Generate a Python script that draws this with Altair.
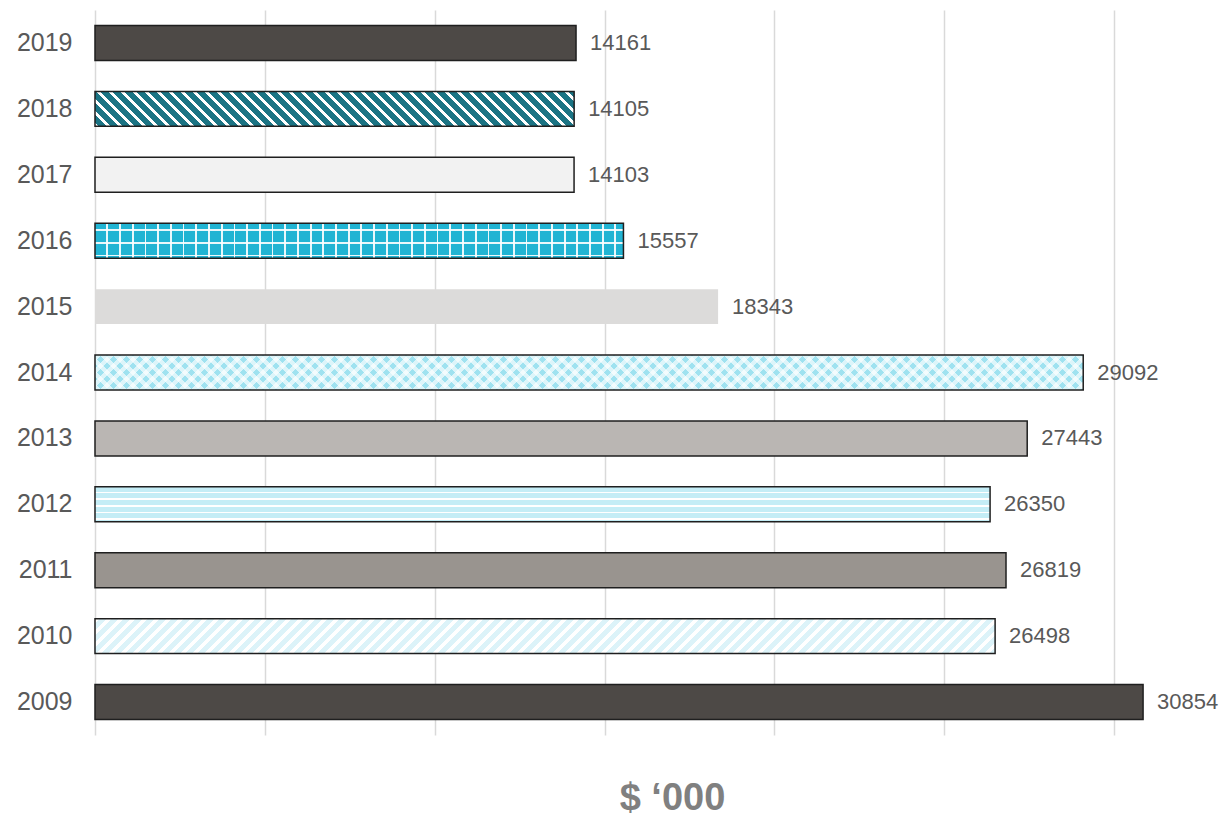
import altair as alt
import pandas as pd

# ---- data ----
YEARS = ["2019", "2018", "2017", "2016", "2015", "2014", "2013", "2012", "2011", "2010", "2009"]
VALUES = [14161, 14105, 14103, 15557, 18343, 29092, 27443, 26350, 26819, 26498, 30854]
BASE_COLORS = ["#4d4946", "#1b7484", "#f2f2f2", "#21b4d3", "#dcdbda", "#9fe2f0",
               "#bab6b3", "#c4edf6", "#99948f", "#dcf3f9", "#4d4946"]
X_TICKS = [0, 5000, 10000, 15000, 20000, 25000, 30000]
X_MAX = 32000
AXIS_TITLE = "$ \u2018000"
NO_BORDER = ["2015"]

# ---- layout ----
PLOT_W = 1087
PLOT_H = 725
PAD_INNER = 0.47
BAR_H = PLOT_H / len(YEARS) * (1 - PAD_INNER)
FONT = "Liberation Sans"

df = pd.DataFrame({"year": YEARS, "value": VALUES})


def bar_width(year):
    return VALUES[YEARS.index(year)] / X_MAX * PLOT_W


def stripes(direction, W, H, period, line, bg, fg, phase=0.0):
    """Linear gradient with hard stops that imitates a stripe fill pattern."""
    if direction == "h":
        L = H
        g = dict(x1=0, y1=0, x2=0, y2=1)
    elif direction == "v":
        L = W
        g = dict(x1=0, y1=0, x2=1, y2=0)
    else:
        r = H / W
        s = (1 + r) / (1 + r * r)
        L = W + H
        if direction == "\\":
            g = dict(x1=0, y1=1, x2=s, y2=1 - s * r)
        else:
            g = dict(x1=0, y1=0, x2=s, y2=s * r)
    stops = [{"offset": 0, "color": bg}]
    pos = phase
    while pos < L:
        a = round(max(pos, 0) / L, 5)
        b = round(min(pos + line, L) / L, 5)
        if b > 0:
            stops += [{"offset": a, "color": bg}, {"offset": a, "color": fg},
                      {"offset": b, "color": fg}, {"offset": b, "color": bg}]
        pos += period
    stops.append({"offset": 1, "color": bg})
    return {"gradient": "linear", **g, "stops": stops}


CLEAR = "rgba(255,255,255,0)"

x_enc = alt.X(
    "value:Q",
    scale=alt.Scale(domain=[0, X_MAX], nice=False),
    axis=alt.Axis(values=X_TICKS, labels=False, ticks=False, domain=False, grid=True,
                  gridColor="#d9d9d9", gridWidth=1.5, title=AXIS_TITLE,
                  titleFont=FONT, titleFontSize=38, titleFontWeight="bold",
                  titleColor="#808080", titleX=577, titleY=74,
                  titleAlign="center", titleBaseline="alphabetic"),
)
y_enc = alt.Y(
    "year:N",
    sort=YEARS,
    scale=alt.Scale(paddingInner=PAD_INNER, paddingOuter=PAD_INNER / 2),
    axis=alt.Axis(title=None, ticks=False, domain=False, grid=False,
                  labelFont=FONT, labelFontSize=25, labelColor="#595959",
                  labelPadding=23),
)

base = alt.Chart(df)

solid = base.mark_bar(strokeWidth=0).encode(
    x=x_enc, y=y_enc,
    color=alt.Color("year:N", scale=alt.Scale(domain=YEARS, range=BASE_COLORS), legend=None),
)


def overlay(year, grad):
    return base.transform_filter(alt.datum.year == year).mark_bar(
        fill=grad, strokeWidth=0).encode(x=x_enc, y=y_enc)


layers = [solid]
# 2018: dark teal with white "\" stripes
layers.append(overlay("2018", stripes("\\", bar_width("2018"), BAR_H, 12.0, 4.2, "#1b7484", "#ffffff")))
# 2016: teal with white grid
layers.append(overlay("2016", stripes("v", bar_width("2016"), BAR_H, 12.7, 1.8, CLEAR, "rgba(255,255,255,0.9)", 11.5)))
layers.append(overlay("2016", stripes("h", bar_width("2016"), BAR_H, 12.7, 1.8, CLEAR, "rgba(255,255,255,0.9)", 6.0)))
# 2014: light blue with white diamonds
layers.append(overlay("2014", stripes("/", bar_width("2014"), BAR_H, 13.0, 6.5, CLEAR, "rgba(255,255,255,0.65)")))
layers.append(overlay("2014", stripes("\\", bar_width("2014"), BAR_H, 13.0, 6.5, CLEAR, "rgba(255,255,255,0.65)")))
# 2012: pale blue with white horizontal lines
layers.append(overlay("2012", stripes("h", bar_width("2012"), BAR_H, 6.7, 1.8, "#c4edf6", "#ffffff", 4.7)))
# 2010: very pale blue with white "/" stripes
layers.append(overlay("2010", stripes("/", bar_width("2010"), BAR_H, 12.0, 4.8, "#dcf3f9", "#ffffff")))

border = base.transform_filter(
    alt.FieldOneOfPredicate(field="year", oneOf=[y for y in YEARS if y not in NO_BORDER])
).mark_bar(fillOpacity=0, stroke="#1f1f1f", strokeWidth=1.5).encode(x=x_enc, y=y_enc)
layers.append(border)

labels = base.mark_text(align="left", baseline="middle", dx=14, fontSize=22,
                        font=FONT, color="#595959").encode(
    x=x_enc, y=y_enc, text=alt.Text("value:Q", format="d"))
layers.append(labels)

chart = alt.layer(*layers).properties(
    width=PLOT_W,
    height=PLOT_H,
    padding={"left": 87, "top": 2, "right": 42, "bottom": 82},
    autosize=alt.AutoSizeParams(type="none"),
    background="#ffffff",
).configure_view(strokeWidth=0)

chart.save("out.html", embed_options={"renderer": "svg", "actions": False})
